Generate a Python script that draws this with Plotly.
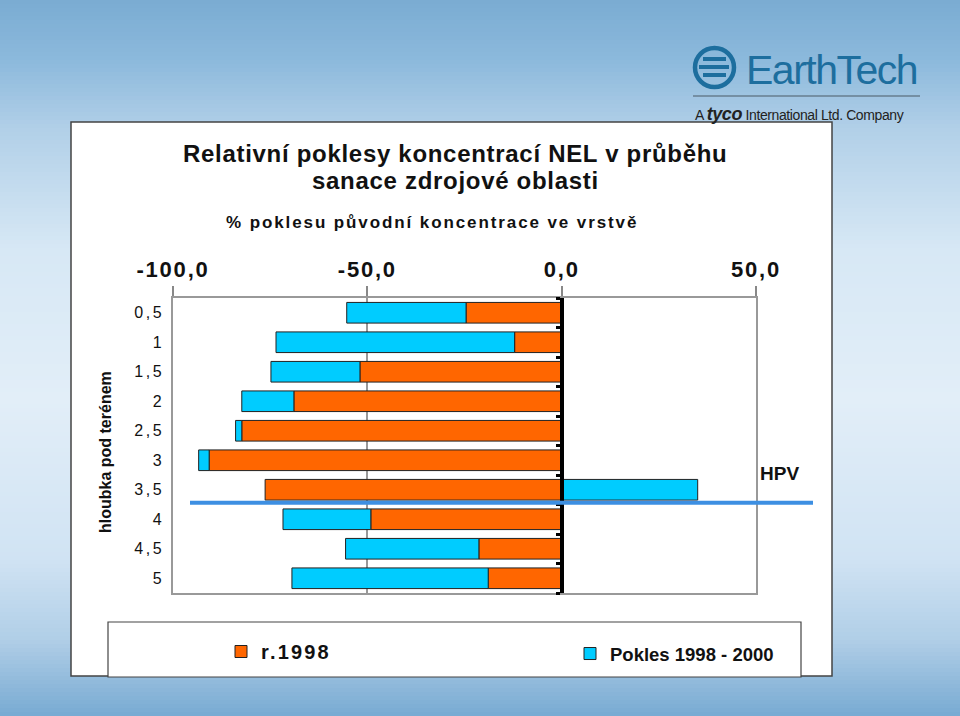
import plotly.graph_objects as go

# ---- data ----
depths = [0.5, 1, 1.5, 2, 2.5, 3, 3.5, 4, 4.5, 5]
depth_labels = ["0,5", "1", "1,5", "2", "2,5", "3", "3,5", "4", "4,5", "5"]
r1998 = [-24.6, -12.1, -51.9, -68.9, -82.3, -90.7, -76.3, -49.1, -21.3, -18.9]
pokles_1998_2000 = [-30.7, -61.4, -22.9, -13.4, -1.6, -2.7, 35.0, -22.6, -34.3, -50.5]
x_tick_vals = [-100, -50, 0, 50]
x_tick_labels = ["-100,0", "-50,0", "0,0", "50,0"]
hpv_depth = 3.72
category_bounds = [0.25, 0.75, 1.25, 1.75, 2.25, 2.75, 3.25, 3.75, 4.25, 4.75, 5.25]
title_lines = ["Relativní poklesy koncentrací NEL v průběhu", "sanace zdrojové oblasti"]

FONT = "Liberation Sans, Arial, sans-serif"
ORANGE = "#FF6600"
CYAN = "#00CCFF"
LOGO = "#1D6E9E"

W, H = 960, 716
ML, MR, MT, MB = 173, 204, 298, 123
PW = W - ML - MR
PH = H - MT - MB


def px_x(px):
    return (px - ML) / PW


def px_y(py):
    return (H - MB - py) / PH


def sp(text, ls):
    return f'<span style="letter-spacing:{ls}px">{text}</span>'


fig = go.Figure()
fig.add_trace(go.Bar(
    y=depths, x=r1998, orientation="h", name=sp("r.1998", 2.2), legend="legend",
    marker=dict(color=ORANGE, line=dict(color="#222222", width=1)),
))
fig.add_trace(go.Bar(
    y=depths, x=pokles_1998_2000, orientation="h", name="Pokles 1998 - 2000",
    legend="legend2",
    marker=dict(color=CYAN, line=dict(color="#222222", width=1)),
))
# helper trace to realise the category axis drawn at zero
fig.add_trace(go.Scatter(
    x=[0], y=[depths[0]], yaxis="y2", mode="markers",
    marker=dict(opacity=0), showlegend=False, hoverinfo="skip",
))

# ---- background gradient ----
stops = [(0, (122, 172, 210)), (60, (140, 185, 220)), (130, (178, 208, 232)),
         (250, (215, 232, 245)), (400, (226, 238, 248)), (560, (208, 227, 243)),
         (640, (176, 206, 231)), (716, (120, 170, 210))]


def col_at(y):
    for (y0, c0), (y1, c1) in zip(stops[:-1], stops[1:]):
        if y0 <= y <= y1:
            t = (y - y0) / (y1 - y0)
            return "rgb(%d,%d,%d)" % tuple(round(a + (b - a) * t) for a, b in zip(c0, c1))
    return "rgb(%d,%d,%d)" % stops[-1][1]


shapes = []
step = 4
for y in range(0, H, step):
    shapes.append(dict(type="rect", xref="paper", yref="paper", layer="below",
                       x0=px_x(0), x1=px_x(W), y0=px_y(y + step + 0.5), y1=px_y(y),
                       line=dict(width=0), fillcolor=col_at(y + step / 2)))
# chart box
shapes.append(dict(type="rect", xref="paper", yref="paper", layer="below",
                   x0=px_x(71), x1=px_x(832), y0=px_y(676), y1=px_y(122),
                   line=dict(color="#444444", width=1.5), fillcolor="white"))
# legend box
shapes.append(dict(type="rect", xref="paper", yref="paper", layer="below",
                   x0=px_x(108), x1=px_x(801), y0=px_y(677), y1=px_y(622),
                   line=dict(color="#444444", width=1.2), fillcolor="white"))
# HPV line
shapes.append(dict(type="line", xref="paper", yref="y", layer="above",
                   x0=px_x(190), x1=px_x(813), y0=hpv_depth, y1=hpv_depth,
                   line=dict(color="#3D8FE2", width=4)))
# logo decoration (circle emblem + rule)
shapes.append(dict(type="circle", xref="paper", yref="paper", layer="below",
                   x0=px_x(695), x1=px_x(734), y0=px_y(87), y1=px_y(48),
                   line=dict(color=LOGO, width=4.5), fillcolor="rgba(0,0,0,0)"))
for yy, xa, xb in [(59, 703, 726), (67, 699, 729), (75, 703, 726)]:
    shapes.append(dict(type="line", xref="paper", yref="paper", layer="below",
                       x0=px_x(xa), x1=px_x(xb), y0=px_y(yy), y1=px_y(yy),
                       line=dict(color=LOGO, width=4)))
shapes.append(dict(type="line", xref="paper", yref="paper", layer="below",
                   x0=px_x(693), x1=px_x(920), y0=px_y(96), y1=px_y(96),
                   line=dict(color="#4a5a66", width=1.2)))

annotations = [
    dict(text=sp(title_lines[0], 0.7),
         xref="paper", yref="paper", x=px_x(455), y=px_y(153), showarrow=False,
         xanchor="center", yanchor="middle",
         font=dict(family=FONT, size=24, color="#111111", weight="bold")),
    dict(text=sp(title_lines[1], 0.7),
         xref="paper", yref="paper", x=px_x(455), y=px_y(180), showarrow=False,
         xanchor="center", yanchor="middle",
         font=dict(family=FONT, size=24, color="#111111", weight="bold")),
    dict(text=sp("% poklesu původní koncentrace ve vrstvě", 1.9),
         xref="paper", yref="paper", x=px_x(432), y=px_y(222), showarrow=False,
         xanchor="center", yanchor="middle",
         font=dict(family=FONT, size=17, color="#111111", weight="bold")),
    dict(text="hloubka pod terénem", textangle=-90,
         xref="paper", yref="paper", x=px_x(105), y=px_y(452), showarrow=False,
         xanchor="center", yanchor="middle",
         font=dict(family=FONT, size=16, color="#111111", weight="bold")),
    dict(text="HPV", xref="paper", yref="y", x=px_x(779), y=3.22, showarrow=False,
         xanchor="center", yanchor="middle",
         font=dict(family=FONT, size=19, color="#111111", weight="bold")),
    dict(text=sp("EarthTech", -1.5), xref="paper", yref="paper", x=px_x(744), y=px_y(70),
         showarrow=False, xanchor="left", yanchor="middle",
         font=dict(family=FONT, size=41, color=LOGO)),
    dict(text=sp('A <b><i><span style="font-size:18px">tyco</span></i></b> International Ltd. Company', -0.4),
         xref="paper", yref="paper", x=px_x(693), y=px_y(114),
         showarrow=False, xanchor="left", yanchor="middle",
         font=dict(family=FONT, size=14, color="#222222")),
]

fig.update_layout(
    width=W, height=H,
    margin=dict(l=ML, r=MR, t=MT, b=MB),
    paper_bgcolor="rgb(200,222,240)",
    plot_bgcolor="white",
    barmode="relative",
    bargap=0.3,
    shapes=shapes,
    annotations=annotations,
    font=dict(family=FONT, color="#111111"),
    xaxis=dict(
        range=[-100, 50], side="top",
        tickvals=x_tick_vals, ticktext=[sp(t, 1.8) for t in x_tick_labels],
        tickfont=dict(family=FONT, size=22, color="#111111", weight="bold"),
        ticks="outside", ticklen=10, tickcolor="#888888", tickwidth=1.5,
        showgrid=True, gridcolor="#999999", gridwidth=1.5,
        showline=True, linecolor="#999999", linewidth=1.5, mirror=True,
        zeroline=False, fixedrange=True,
    ),
    yaxis=dict(
        range=[5.25, 0.25],
        tickvals=depths, ticktext=[sp(t, 2.5) for t in depth_labels],
        tickfont=dict(family=FONT, size=16, color="#111111"),
        ticks="", ticklabelstandoff=4,
        showgrid=False, showline=True, linecolor="#999999", linewidth=1.5, mirror=True,
        zeroline=False, fixedrange=True,
    ),
    yaxis2=dict(
        overlaying="y", anchor="free", position=(0 - (-100)) / 150, side="left",
        range=[5.25, 0.25], tickvals=category_bounds, showticklabels=False,
        ticks="outside", ticklen=4, tickwidth=2.5, tickcolor="black",
        showline=True, linecolor="black", linewidth=3.5,
        showgrid=False, zeroline=False, fixedrange=True,
    ),
    legend=dict(
        orientation="h", x=px_x(221), y=px_y(632), xanchor="left", yanchor="top",
        bgcolor="rgba(0,0,0,0)", borderwidth=0,
        font=dict(family=FONT, size=20, color="#111111", weight="bold"),
    ),
    legend2=dict(
        orientation="h", x=px_x(570), y=px_y(635), xanchor="left", yanchor="top",
        bgcolor="rgba(0,0,0,0)", borderwidth=0,
        font=dict(family=FONT, size=18.5, color="#111111", weight="bold"),
    ),
    showlegend=True,
)

fig.write_html("out.html", config={"displayModeBar": False},
               post_script="document.body.style.margin='0';")
